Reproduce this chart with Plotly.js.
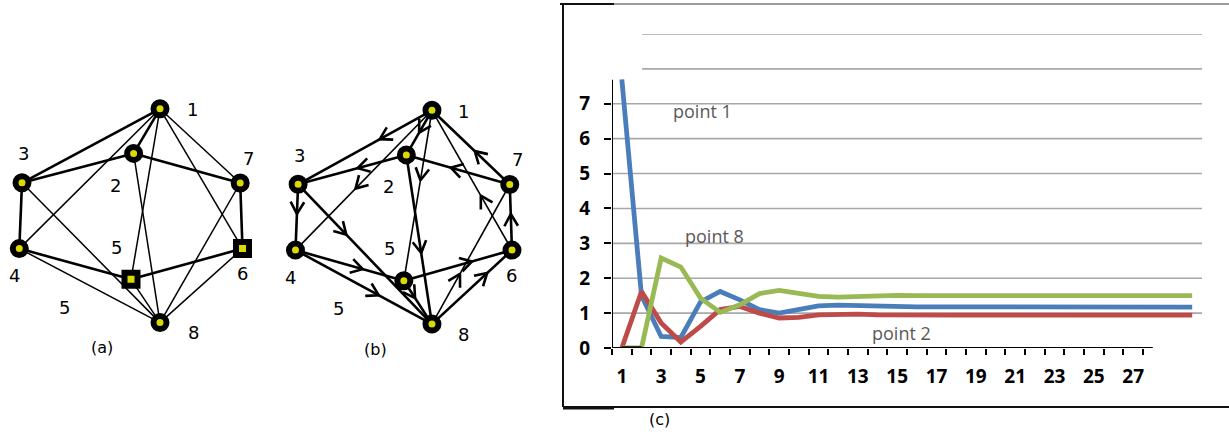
<!DOCTYPE html>
<html><head><meta charset="utf-8">
<script src="https://cdn.plot.ly/plotly-3.0.1.min.js"></script>
<style>html,body{margin:0;padding:0;background:#fff;}#chart{width:1229px;height:446px;}</style>
</head><body><div id="chart"></div>
<script>
// ---------- data: chart (c) ----------
const t = [1,2,3,4,5,6,7,8,9,10,11,12,13,14,15,16,17,18,19,20,21,22,23,24,25,26,27,28,29,30];
const point1 = [7.7,1.5,0.33,0.3,1.32,1.62,1.38,1.1,1.0,1.1,1.21,1.23,1.21,1.19,1.17,1.18,1.18,1.18,1.17,1.17,1.17,1.17,1.17,1.17,1.17,1.17,1.17,1.17,1.17,1.17];
const point2 = [0,1.62,0.72,0.17,0.62,1.1,1.19,1.0,0.86,0.88,0.95,0.97,0.97,0.95,0.94,0.94,0.94,0.94,0.94,0.94,0.94,0.94,0.94,0.94,0.94,0.94,0.94,0.94,0.94,0.94];
const point8 = [0,0,2.58,2.32,1.43,1.02,1.24,1.56,1.65,1.58,1.48,1.46,1.48,1.5,1.51,1.5,1.5,1.5,1.5,1.5,1.5,1.5,1.5,1.5,1.5,1.5,1.5,1.5,1.5,1.5];
const startSeg = [0,0,null,null,null,null,null,null,null,null,null,null,null,null,null,null,null,null,null,null,null,null,null,null,null,null,null,null,null,null];
const xTickLabels = [1,3,5,7,9,11,13,15,17,19,21,23,25,27];
const yTickLabels = [0,1,2,3,4,5,6,7];
const gridLevels = [1,2,3,4,5,6,7,8,9];
const seriesNames = ['point 1','point 2','point 8'];

// ---------- data: graphs (a) and (b) ----------
const nodeIds = ['1','2','3','4','5','6','7','8'];
const nodeX = [160,133.6,22,19.3,131,242.5,240.2,160];
const nodeY = [108.8,153.4,182.8,248.6,279.3,248.6,183,322.6];
const edges = [[1,3],[1,2],[1,4],[1,5],[1,7],[1,6],[3,2],[3,4],[3,8],[4,5],[4,8],[2,7],[2,8],[5,6],[5,8],[7,6],[7,8],[6,8]];
const arcs = [[1,3],[2,3],[1,4],[1,2],[1,5],[2,8],[7,2],[7,1],[6,1],[6,7],[3,4],[3,8],[4,5],[4,8],[5,8],[5,6],[8,7],[8,6]];
const edgeWeightLabel = '5';

// ---------- styles ----------
const COL = {blue:'#4A7EBB', red:'#BE4B48', green:'#98B954', grid:'#a8a8a8', yellow:'#dada00'};
const thickA = ['3-4','7-6','3-2','2-7','4-5','5-6','1-3','1-2'];
const thinB = ['1-6','7-8','1-5','1-4'];
const arrowFrac = {'1-3':0.39,'2-3':0.45,'1-4':0.56,'1-2':0.5,'1-5':0.41,'2-8':0.58,'7-2':0.57,'7-1':0.45,'6-1':0.39,'6-7':0.55,'3-4':0.45,'3-8':0.36,'4-5':0.62,'4-8':0.61,'5-8':0.4,'5-6':0.63,'8-7':0.36,'8-6':0.69};
const symA = ['circle','circle','circle','circle','square','square','circle','circle'];
const labelOff = {'1':[32,1],'2':[-18,32],'3':[1,-29],'4':[-5,27],'5':[-15,-32],'6':[0,25],'7':[8,-25],'8':[33,10]};

const W = 1229, H = 446;
const px = v => v / W, py = v => (H - v) / H;

const traces = [];
[[point1,COL.blue,seriesNames[0]],[point2,COL.red,seriesNames[1]],[point8,COL.green,seriesNames[2]]].forEach(([ys,c,n]) => {
  traces.push({x:t, y:ys, name:n, type:'scatter', mode:'lines', xaxis:'x', yaxis:'y',
    line:{color:c, width:4.8, shape:'linear'}, hoverinfo:'x+y+name', cliponaxis:false});
});
traces.push({x:t, y:startSeg, type:'scatter', mode:'lines', xaxis:'x', yaxis:'y', line:{color:'#000', width:3.5}, connectgaps:false, cliponaxis:false, hoverinfo:'skip'});

function edgeKey(a,b){return a+'-'+b;}
function addGraph(xa, ya, widthFn, directed, symbols){
  const groups = {};
  edges.forEach(([a,b]) => { const w = widthFn(a,b); (groups[w] = groups[w] || []).push([a,b]); });
  Object.keys(groups).forEach(w => {
    const xs=[], ys=[];
    groups[w].forEach(([a,b]) => { xs.push(nodeX[a-1], nodeX[b-1], null); ys.push(nodeY[a-1], nodeY[b-1], null); });
    traces.push({x:xs, y:ys, type:'scatter', mode:'lines', xaxis:xa, yaxis:ya, line:{color:'#000', width:+w}, hoverinfo:'skip'});
  });
  if (directed) {
    const ax=[], ay=[];
    arcs.forEach(([a,b]) => {
      const f = arrowFrac[edgeKey(a,b)] || 0.5;
      const x0=nodeX[a-1], y0=nodeY[a-1], x1=nodeX[b-1], y1=nodeY[b-1];
      const dx=x1-x0, dy=y1-y0, L=Math.hypot(dx,dy), ux=dx/L, uy=dy/L, nx=-uy, ny=ux;
      const tx=x0+f*dx, ty=y0+f*dy, back=12, half=7;
      ax.push(tx-back*ux+half*nx, tx, tx-back*ux-half*nx, null);
      ay.push(ty-back*uy+half*ny, ty, ty-back*uy-half*ny, null);
    });
    traces.push({x:ax, y:ay, type:'scatter', mode:'lines', xaxis:xa, yaxis:ya, line:{color:'#000', width:2.6}, hoverinfo:'skip'});
  }
  traces.push({x:nodeX, y:nodeY, text:nodeIds, type:'scatter', mode:'markers', xaxis:xa, yaxis:ya,
    marker:{symbol:symbols, size:13, color:COL.yellow, line:{color:'#000', width:6}}, hoverinfo:'text'});
}
addGraph('x3','y3', (a,b) => (thickA.includes(a+'-'+b)||thickA.includes(b+'-'+a)) ? 2.6 : 1.5, false, symA);
addGraph('x4','y4', (a,b) => (thinB.includes(a+'-'+b)||thinB.includes(b+'-'+a)) ? 1.6 : 2.6, true, 'circle');

// ---------- shapes ----------
const shapes = [];
gridLevels.forEach(g => {
  shapes.push({type:'line', xref:'x', yref:'y', x0: g>7 ? 2.03 : 0.5, x1:30.5, y0:g, y1:g, line:{color:COL.grid, width:1.6}, layer:'below'});
});
shapes.push({type:'line', xref:'x', yref:'y', x0:0.5, x1:28.0, y0:0, y1:0, line:{color:'#000', width:2}});
shapes.push({type:'line', xref:'x', yref:'y', x0:0.5, x1:0.5, y0:0, y1:7.69, line:{color:'#000', width:2}});
shapes.push({type:'line', xref:'paper', yref:'paper', x0:px(563), x1:px(1229), y0:py(4), y1:py(4), line:{color:'#9a9a9a', width:2}});
shapes.push({type:'line', xref:'paper', yref:'paper', x0:px(560), x1:px(614), y0:py(4), y1:py(4), line:{color:'#111', width:2}});
shapes.push({type:'line', xref:'paper', yref:'paper', x0:px(563), x1:px(563), y0:py(4), y1:py(407), line:{color:'#111', width:2}});
shapes.push({type:'line', xref:'paper', yref:'paper', x0:px(563), x1:px(1229), y0:py(407), y1:py(407), line:{color:'#111', width:2}});
shapes.push({type:'line', xref:'paper', yref:'paper', x0:px(563), x1:px(614), y0:py(408), y1:py(408), line:{color:'#111', width:3}});

// ---------- annotations ----------
const ann = [];
const chartFont = {family:'Open Sans, Noto Sans, sans-serif', color:'#595959', size:18};
ann.push({xref:'x', yref:'y', x:5.1, y:6.8, text:seriesNames[0], showarrow:false, font:chartFont});
ann.push({xref:'x', yref:'y', x:5.7, y:3.22, text:seriesNames[2], showarrow:false, font:chartFont});
ann.push({xref:'x', yref:'y', x:15.2, y:0.44, text:seriesNames[1], showarrow:false, font:chartFont});
ann.push({xref:'x', yref:'y', x:-0.42, y:8.49, text:'f', showarrow:false, font:{family:'Open Sans, sans-serif', size:26, color:'#000'}});
ann.push({xref:'x', yref:'y', x:29.28, y:-0.77, text:'t', showarrow:false, font:{family:'Open Sans, sans-serif', size:26, color:'#000'}});
ann.push({xref:'paper', yref:'paper', x:px(659), y:py(431), text:'(c)', showarrow:false, font:{family:'DejaVu Sans, sans-serif', size:16, color:'#000'}});
const gFont = {family:'DejaVu Sans, sans-serif', size:18, color:'#000'};
[['x3','y3','(a)'],['x4','y4','(b)']].forEach(([xa,ya,cap]) => {
  nodeIds.forEach((id,i) => {
    const o = labelOff[id];
    ann.push({xref:xa, yref:ya, x:nodeX[i]+o[0], y:nodeY[i]+o[1], text:id, showarrow:false, font:gFont});
  });
  ann.push({xref:xa, yref:ya, x:64, y:307, text:edgeWeightLabel, showarrow:false, font:gFont});
  ann.push({xref:xa, yref:ya, x:101.5, y:347.5, text:cap, showarrow:false, font:{family:'DejaVu Sans, sans-serif', size:16, color:'#000'}});
});

const tickFont = {family:'Open Sans, sans-serif', size:19, color:'#000', weight:700};
const hidden = {visible:false, fixedrange:true};
const layout = {
  width:W, height:H, margin:{l:0,r:0,t:0,b:0}, paper_bgcolor:'#fff', plot_bgcolor:'rgba(0,0,0,0)',
  showlegend:false, hovermode:'closest',
  xaxis:{domain:[px(612),px(1202)], range:[0.5,30.5], anchor:'y', showgrid:false, zeroline:false, showline:false, automargin:false,
    tickmode:'array', tickvals:[0.5,1.5,2.5,3.5,4.5,5.5,6.5,7.5,8.5,9.5,10.5,11.5,12.5,13.5,14.5,15.5,16.5,17.5,18.5,19.5,20.5,21.5,22.5,23.5,24.5,25.5,26.5,27.5],
    ticks:'outside', ticklen:6, tickwidth:1.5, tickcolor:'#000', showticklabels:false, fixedrange:true},
  xaxis2:{domain:[px(612),px(1202)], range:[0.5,30.5], anchor:'y', overlaying:'x', side:'bottom', showgrid:false, zeroline:false, showline:false, automargin:false,
    tickmode:'array', tickvals:xTickLabels, ticktext:xTickLabels.map(String), ticks:'', ticklabelstandoff:15, tickfont:tickFont, fixedrange:true},
  yaxis:{domain:[py(348),py(34)], range:[0,9], anchor:'x', showgrid:false, zeroline:false, showline:false, automargin:false,
    tickmode:'array', tickvals:yTickLabels, ticktext:yTickLabels.map(String), ticks:'outside', ticklen:7, tickwidth:1.5, tickcolor:'#000',
    ticklabelstandoff:10, tickfont:tickFont, fixedrange:true},
  xaxis3:Object.assign({domain:[0, px(280)], range:[0,280], anchor:'y3'}, hidden),
  yaxis3:Object.assign({domain:[py(370), py(90)], range:[370,90], anchor:'x3'}, hidden),
  xaxis4:Object.assign({domain:[px(405-132.2*0.97), px(405+(280-132.2)*0.97)], range:[0,280], anchor:'y4'}, hidden),
  yaxis4:Object.assign({domain:[py(371.5), py(91.5)], range:[370,90], anchor:'x4'}, hidden),
  shapes:shapes, annotations:ann
};
traces.push({x:[null], y:[null], xaxis:'x2', yaxis:'y', type:'scatter', mode:'lines', hoverinfo:'skip'});
traces.forEach(tr => { if (tr.showlegend === undefined) tr.showlegend = false; });
Plotly.newPlot('chart', traces, layout, {displayModeBar:false});
</script></body></html>
